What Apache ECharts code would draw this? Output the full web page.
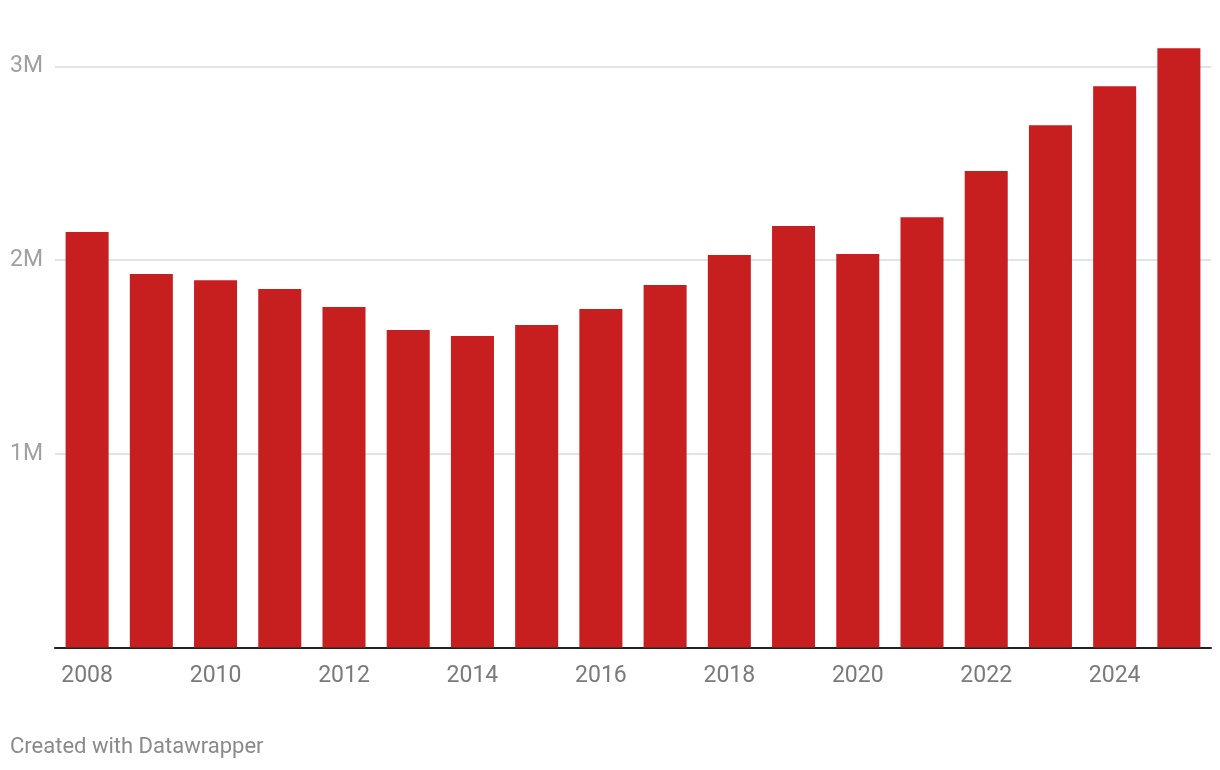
<!DOCTYPE html>
<html><head><meta charset="utf-8">
<script src="https://cdn.jsdelivr.net/npm/echarts@6/dist/echarts.min.js"></script>
<style>html,body{margin:0;padding:0;background:#fff}#c{width:1220px;height:770px}</style>
</head><body><div id="c"></div>
<script>
const years = ['2008','2009','2010','2011','2012','2013','2014','2015','2016','2017','2018','2019','2020','2021','2022','2023','2024','2025'];
const values = [2145000,1928000,1896000,1850000,1758000,1639000,1608000,1665000,1747000,1871000,2026000,2175000,2031000,2221000,2459000,2696000,2897000,3093000];
const footer = 'Created with Datawrapper';

const chart = echarts.init(document.getElementById('c'));
chart.setOption({
  animation: false,
  grid: {left: 55, right: 9, top: 27.5, bottom: 122.5, containLabel: false},
  xAxis: {
    type: 'category', data: years,
    axisLine: {lineStyle: {color: '#222', width: 2}},
    axisTick: {show: false},
    axisLabel: {interval: 1, color: '#7a7a7a', fontSize: 23, fontFamily: 'Roboto', margin: 17}
  },
  yAxis: {
    type: 'value', min: 0, max: 3200000, interval: 1000000,
    axisLine: {show: false}, axisTick: {show: false},
    splitLine: {lineStyle: {color: ['#e3e3e3','#e3e3e3','#e3e3e3','#e3e3e3','rgba(0,0,0,0)'], width: 2}},
    axisLabel: {
      align: 'left', margin: 45, color: '#a0a0a0', fontSize: 23, fontFamily: 'Roboto',
      padding: [8, 0, 0, 0],
      formatter: v => (v > 0 && v % 1000000 === 0) ? (v/1000000) + 'M' : ''
    }
  },
  series: [{
    type: 'bar', data: values, barCategoryGap: '33%',
    itemStyle: {color: '#c71e1f'}
  }],
  graphic: [{
    type: 'text', left: 10, top: 736,
    style: {text: footer, fill: '#8a8a8a', fontSize: 22, fontFamily: 'Roboto'}
  }]
});
</script></body></html>
